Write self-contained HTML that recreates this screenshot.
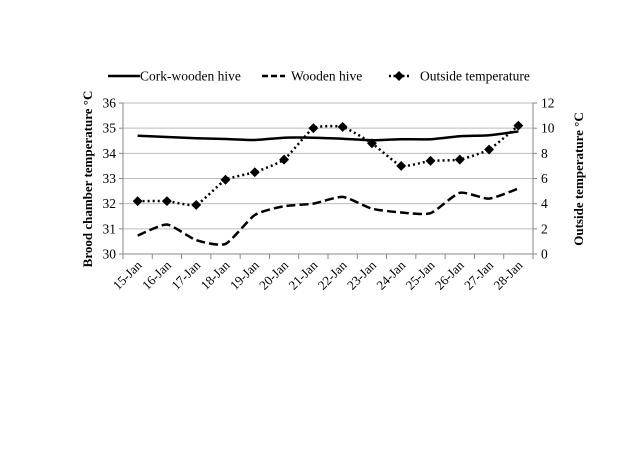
<!DOCTYPE html>
<html><head><meta charset="utf-8"><style>
body{margin:0;background:#fff;}
svg text{font-family:"Liberation Serif",serif;fill:#000;}
</style></head><body>
<svg width="640" height="453">
<g id="grid"></g><g id="axes"></g><g id="series"></g>
<g font-size="13">
<line x1="108" y1="76" x2="140" y2="76" stroke="#000" stroke-width="2.5"/>
<text x="140" y="80.5" font-size="13.5">Cork-wooden hive</text>
<line x1="262" y1="76" x2="285" y2="76" stroke="#000" stroke-width="2.5" stroke-dasharray="6,3"/>
<text x="291" y="80.5" font-size="13.5">Wooden hive</text>
<line x1="389" y1="76" x2="410" y2="76" stroke="#000" stroke-width="2.5" stroke-dasharray="2,2.5"/>
<rect x="395.5" y="72.5" width="7" height="7" transform="rotate(45 399 76)" fill="#000"/>
<text x="420" y="80.5" font-size="13.5">Outside temperature</text>
</g>
<text transform="translate(92,179) rotate(-90)" text-anchor="middle" font-size="13" font-weight="bold">Brood chamber temperature °C</text>
<text transform="translate(583,179) rotate(-90)" text-anchor="middle" font-size="13" font-weight="bold">Outside temperature °C</text>
</svg>
<script>
const categories=["15-Jan","16-Jan","17-Jan","18-Jan","19-Jan","20-Jan","21-Jan","22-Jan","23-Jan","24-Jan","25-Jan","26-Jan","27-Jan","28-Jan"];
const cork=[34.7,34.65,34.6,34.57,34.53,34.62,34.62,34.58,34.52,34.56,34.56,34.68,34.72,34.87];
const wooden=[30.73,31.17,30.55,30.4,31.55,31.9,32.0,32.27,31.8,31.65,31.62,32.43,32.2,32.6];
const outside=[4.2,4.2,3.9,5.9,6.5,7.5,10.0,10.1,8.8,7.0,7.4,7.5,8.3,10.2];
const leftTicks=[30,31,32,33,34,35,36];
const rightTicks=[0,2,4,6,8,10,12];
const NS="http://www.w3.org/2000/svg";
const L=123,R=533,T=103,B=254;
const bw=(R-L)/categories.length;
const x=i=>L+bw*(i+0.5);
const yL=v=>B-(v-30)/6*(B-T);
const yR=v=>B-v/12*(B-T);
function mk(p,tag,a){const e=document.createElementNS(NS,tag);for(const k in a)e.setAttribute(k,a[k]);p.appendChild(e);return e;}
const grid=document.getElementById('grid'),axes=document.getElementById('axes'),ser=document.getElementById('series');
leftTicks.forEach((t,i)=>{
 const g=mk(grid,'line',{x1:L,x2:R,y1:yL(t),y2:yL(t),stroke:'#bbb','stroke-width':1});
 
 mk(axes,'line',{x1:L-4,x2:L,y1:yL(t),y2:yL(t),stroke:'#888'});
 const tx=mk(axes,'text',{x:L-7,y:yL(t)+4.5,'text-anchor':'end','font-size':13.5});tx.textContent=t;
 
});
rightTicks.forEach(t=>{
 mk(axes,'line',{x1:R,x2:R+4,y1:yR(t),y2:yR(t),stroke:'#888'});
 const tx=mk(axes,'text',{x:R+8,y:yR(t)+4.5,'font-size':13.5});tx.textContent=t;
 
});
mk(axes,'line',{x1:L,x2:L,y1:T,y2:B,stroke:'#888'});
mk(axes,'line',{x1:R,x2:R,y1:T,y2:B,stroke:'#888'});
mk(axes,'line',{x1:L,x2:R,y1:B,y2:B,stroke:'#888'});
categories.forEach((c,i)=>{
 mk(axes,'line',{x1:L+bw*i,x2:L+bw*i,y1:B,y2:B+5,stroke:'#888'});
 const tx=mk(axes,'text',{'text-anchor':'end','font-size':13,transform:`translate(${x(i)+5},${B+12}) rotate(-45)`});tx.textContent=c;
 
});
mk(axes,'line',{x1:R,x2:R,y1:B,y2:B+5,stroke:'#888'});
function smooth(pts,t){let d=`M${pts[0][0]},${pts[0][1]}`;for(let i=0;i<pts.length-1;i++){const p0=pts[Math.max(i-1,0)],p1=pts[i],p2=pts[i+1],p3=pts[Math.min(i+2,pts.length-1)];d+=` C${p1[0]+(p2[0]-p0[0])*t},${p1[1]+(p2[1]-p0[1])*t} ${p2[0]-(p3[0]-p1[0])*t},${p2[1]-(p3[1]-p1[1])*t} ${p2[0]},${p2[1]}`;}return d;}
const pc=mk(ser,'path',{d:smooth(cork.map((v,i)=>[x(i),yL(v)]),0.1),fill:'none',stroke:'#000','stroke-width':2.5});

const pw=mk(ser,'path',{d:smooth(wooden.map((v,i)=>[x(i),yL(v)]),0.1),fill:'none',stroke:'#000','stroke-width':2.5,'stroke-dasharray':'9,4'});

const po=mk(ser,'path',{d:smooth(outside.map((v,i)=>[x(i),yR(v)]),0.08),fill:'none',stroke:'#000','stroke-width':2.5,'stroke-dasharray':'2,3'});

outside.forEach((v,i)=>{
 const m=mk(ser,'rect',{x:x(i)-3.5,y:yR(v)-3.5,width:7,height:7,fill:'#000',transform:`rotate(45 ${x(i)} ${yR(v)})`});
 
});
</script>
</body></html>
